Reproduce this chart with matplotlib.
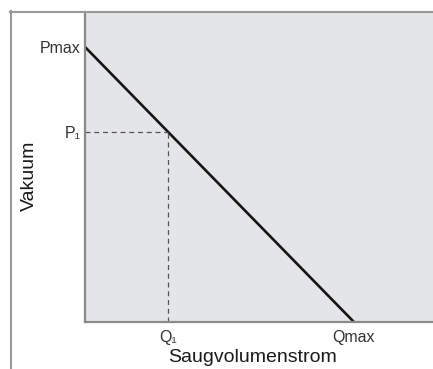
import matplotlib.pyplot as plt
from matplotlib.lines import Line2D

plt.rcParams['font.family'] = ['Liberation Sans', 'DejaVu Sans']

# pump curve: vacuum drops linearly with suction flow
q_max = 1.0
p_max = 1.0
q_1 = 0.31
p_1 = p_max * (1 - q_1 / q_max)

x_ticks = [q_1, q_max]
x_labels = ['Q₁', 'Qmax']
y_ticks = [p_1, p_max]
y_labels = ['P₁', 'Pmax']

fig = plt.figure(figsize=(4.33, 3.69), dpi=100)
ax = fig.add_axes([85 / 433, 47 / 369, 348 / 433, 310 / 369])
ax.set_facecolor('#e4e5e7')

ax.plot([0, q_max], [p_max, 0], color='#151515', lw=1.9, solid_capstyle='butt')
ax.plot([0, q_1], [p_1, p_1], color='#555555', lw=0.9, ls=(0, (4, 3)))
ax.plot([q_1, q_1], [0, p_1], color='#555555', lw=0.9, ls=(0, (4, 3)))

ax.set_xlim(0, 1.294)
ax.set_ylim(0, 1.127)
ax.set_xticks(x_ticks, x_labels)
ax.set_yticks(y_ticks, y_labels)
ax.tick_params(length=0, labelsize=11.5, colors='#333333')
ax.tick_params(axis='x', pad=6)
ax.tick_params(axis='y', pad=3)

for side in ['top', 'right']:
    ax.spines[side].set_visible(False)
for side in ['left', 'bottom']:
    ax.spines[side].set_color('#8a8a8a')
    ax.spines[side].set_linewidth(1.6)

ax.set_xlabel('Saugvolumenstrom', fontsize=14, color='#1a1a1a')
ax.set_ylabel('Vakuum', fontsize=14, color='#1a1a1a')
ax.xaxis.set_label_coords(0.48, -0.088)
ax.yaxis.set_label_coords(-0.135, 0.47)

# outer frame on the left and top
fig.add_artist(Line2D([10.5 / 433, 10.5 / 433], [0, 358 / 369],
                      transform=fig.transFigure, color='#999999', lw=1.5))
fig.add_artist(Line2D([10 / 433, 1], [357.5 / 369, 357.5 / 369],
                      transform=fig.transFigure, color='#999999', lw=1.5))

fig.savefig('out.png', dpi=100)
